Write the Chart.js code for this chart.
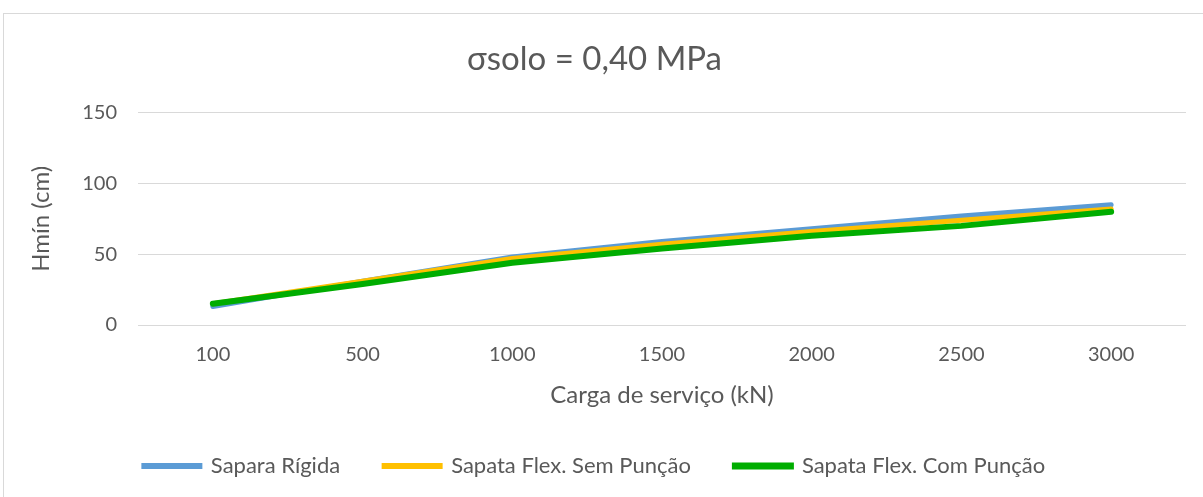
<!DOCTYPE html>
<html>
<head>
<meta charset="utf-8">
<script src="https://cdn.jsdelivr.net/npm/chart.js@4.4.1/dist/chart.umd.min.js"></script>
<style>
  html, body { margin: 0; padding: 0; background: #fff; }
  .wrap { position: relative; width: 1203px; height: 497px; overflow: hidden; }
  .frame { position: absolute; left: 3px; top: 13px; width: 1220px; height: 520px; border: 1px solid #d9d9d9; box-sizing: border-box; }
  canvas { position: absolute; left: 0; top: 0; }
</style>
</head>
<body>
<div class="wrap">
  <div class="frame"></div>
  <canvas id="myChart" width="1203" height="497"></canvas>
</div>
<script>
const cargas = ["100", "500", "1000", "1500", "2000", "2500", "3000"];
const sapataRigida = [13, 31, 48, 59, 68, 77, 85];
const sapataSemPuncao = [15, 31, 47, 57, 66, 74, 82];
const sapataComPuncao = [15, 29, 44, 54, 63, 70, 80];
const yTicks = [0, 50, 100, 150];

const textColor = "#595959";
const fontFamily = "Lato, 'Open Sans', sans-serif";

const ctx = document.getElementById("myChart").getContext("2d");
const myChart = new Chart(ctx, {
  type: "line",
  data: {
    labels: cargas,
    datasets: [{
      label: "Sapara Rígida",
      data: sapataRigida,
      borderColor: "#5b9bd5",
      backgroundColor: "#5b9bd5",
      borderWidth: 5,
      pointRadius: 0,
      borderCapStyle: "round",
      order: 3
    }, {
      label: "Sapata Flex. Sem Punção",
      data: sapataSemPuncao,
      borderColor: "#ffc000",
      backgroundColor: "#ffc000",
      borderWidth: 5,
      pointRadius: 0,
      borderCapStyle: "round",
      order: 2
    }, {
      label: "Sapata Flex. Com Punção",
      data: sapataComPuncao,
      borderColor: "#00ad00",
      backgroundColor: "#00ad00",
      borderWidth: 6,
      pointRadius: 0,
      borderCapStyle: "round",
      order: 1
    }]
  },
  options: {
    responsive: false,
    animation: false,
    layout: { padding: { left: 3, right: 17, top: 13, bottom: 10 } },
    plugins: {
      title: {
        display: true,
        text: "σsolo = 0,40 MPa",
        color: textColor,
        font: { family: fontFamily, size: 33, weight: "normal" },
        padding: { top: 27, bottom: 33 }
      },
      legend: {
        position: "bottom",
        labels: {
          color: textColor,
          font: { family: fontFamily, size: 22 },
          boxWidth: 56,
          boxHeight: 1,
          padding: 44,
          sort: (a, b) => a.datasetIndex - b.datasetIndex
        }
      },
      tooltip: { enabled: false }
    },
    scales: {
      x: {
        offset: true,
        grid: { display: false },
        border: { display: false },
        ticks: { color: textColor, font: { family: fontFamily, size: 20 }, padding: 10, maxRotation: 0 },
        title: { display: true, text: "Carga de serviço (kN)", color: textColor, font: { family: fontFamily, size: 24 }, padding: { top: 4, bottom: 1 } },
        afterFit: (scale) => { scale.height = 86; }
      },
      y: {
        min: 0,
        max: 150,
        afterBuildTicks: (scale) => { scale.ticks = yTicks.map(v => ({ value: v })); },
        grid: { color: "#d9d9d9", lineWidth: 1, drawTicks: false },
        border: { display: false },
        ticks: { color: textColor, font: { family: fontFamily, size: 20 }, padding: 21 },
        title: { display: true, text: "Hmín (cm)", color: textColor, font: { family: fontFamily, size: 24 }, padding: { top: 24, bottom: 0 } },
        afterFit: (scale) => { scale.width = 135; }
      }
    }
  }
});
</script>
</body>
</html>
